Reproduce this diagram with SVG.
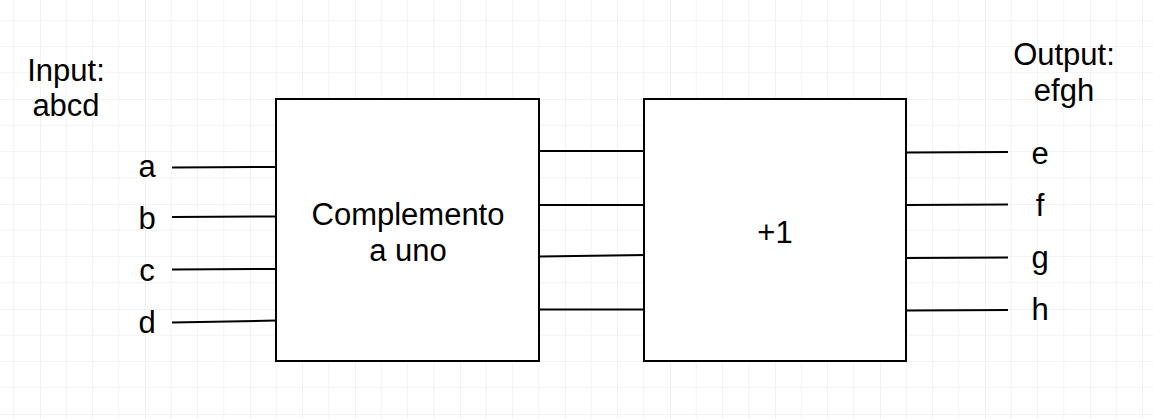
<svg xmlns="http://www.w3.org/2000/svg" width="1153" height="419" viewBox="0 0 1153 419">
  <defs>
    <pattern id="grid" patternUnits="userSpaceOnUse" x="40" y="99" width="105" height="105">
      <path d="M26.25 0V105M52.5 0V105M78.75 0V105M0 26.25H105M0 52.5H105M0 78.75H105" stroke="#f3f3f3" stroke-width="1" fill="none"/>
      <path d="M0 0V105M0 0H105" stroke="#e6e6e6" stroke-width="1" fill="none"/>
    </pattern>
  </defs>
  <style>
    .box { fill: #ffffff; stroke: #000000; stroke-width: 2; }
    .wire { stroke: #000000; stroke-width: 2; fill: none; }
    text { font-family: "Liberation Sans", Arial, sans-serif; font-size: 31px; fill: #000000; text-anchor: middle; }
  </style>
  <rect x="0" y="0" width="1153" height="419" fill="#ffffff"/>
  <rect x="0" y="0" width="1153" height="419" fill="url(#grid)"/>

  <g id="connectors">
    <line class="wire" x1="172" y1="167.5" x2="276" y2="167"/>
    <line class="wire" x1="172" y1="217" x2="276" y2="216.5"/>
    <line class="wire" x1="172" y1="269.5" x2="275" y2="269"/>
    <line class="wire" x1="172" y1="322.5" x2="276" y2="320.5"/>

    <line class="wire" x1="540" y1="151" x2="644" y2="151"/>
    <line class="wire" x1="540" y1="205" x2="646" y2="205"/>
    <line class="wire" x1="540" y1="256.5" x2="645" y2="255"/>
    <line class="wire" x1="540" y1="309.5" x2="645" y2="309.5"/>

    <line class="wire" x1="907" y1="152.5" x2="1008" y2="152"/>
    <line class="wire" x1="907" y1="205" x2="1008" y2="204.5"/>
    <line class="wire" x1="907" y1="258" x2="1008" y2="257.5"/>
    <line class="wire" x1="907" y1="310.5" x2="1008" y2="310"/>
  </g>

  <g id="node-complemento">
    <rect class="box" x="276" y="99" width="263" height="262"/>
    <text x="408" y="225">Complemento</text>
    <text x="408" y="261">a uno</text>
  </g>

  <g id="node-plus1">
    <rect class="box" x="644" y="99" width="262" height="262"/>
    <text x="775" y="243">+1</text>
  </g>

  <g id="label-input">
    <text x="66" y="81">Input:</text>
    <text x="66" y="116">abcd</text>
  </g>

  <g id="label-output">
    <text x="1064" y="65">Output:</text>
    <text x="1064" y="101">efgh</text>
  </g>

  <g id="input-labels">
    <text x="147" y="177">a</text>
    <text x="147" y="229">b</text>
    <text x="147" y="281">c</text>
    <text x="147" y="333">d</text>
  </g>

  <g id="output-labels">
    <text x="1040" y="164">e</text>
    <text x="1040" y="216">f</text>
    <text x="1040" y="268">g</text>
    <text x="1040" y="320">h</text>
  </g>
</svg>
